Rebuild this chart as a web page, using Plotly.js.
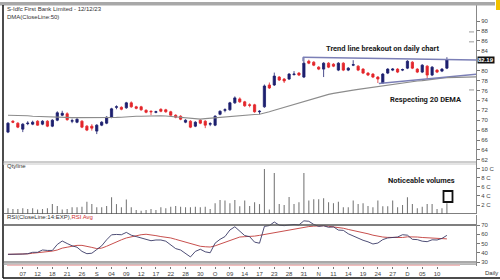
<!DOCTYPE html>
<html><head><meta charset="utf-8">
<script src="https://cdn.plot.ly/plotly-3.0.1.min.js"></script>
<style>html,body{margin:0;padding:0;background:#fff}#c{width:500px;height:280px}</style>
</head><body><div id="c"></div>
<script>
const openP  = [67.6,69.8,69.4,68.2,69.3,69.2,69.8,69.2,69.8,68.8,70.0,71.0,71.3,69.8,69.6,69.8,68.8,68.8,67.8,69.0,69.4,70.6,72.6,72.6,72.5,73.5,72.7,72.7,72.0,71.8,71.6,72.2,72.1,71.7,71.0,70.8,69.6,69.8,68.8,70.0,69.8,69.2,69.0,71.2,72.0,72.1,73.5,74.3,73.7,73.1,73.1,71.7,72.7,77.1,77.1,78.7,78.3,78.3,79.2,79.5,78.7,81.9,81.7,80.7,80.3,81.5,81.3,80.1,81.5,80.1,81.1,80.9,80.3,79.5,79.3,78.7,77.5,79.5,80.1,80.3,80.1,80.5,81.7,80.3,79.7,80.9,79.1,80.1,79.9,80.5];
const highP  = [69.6,70.0,69.6,69.4,69.8,69.9,70.0,70.0,70.0,70.2,71.8,71.9,71.6,70.3,70.4,70.0,69.0,69.2,69.2,69.8,70.8,72.5,73.0,72.8,73.7,73.8,72.9,72.9,72.2,72.0,71.9,72.4,72.3,71.9,71.2,71.0,70.2,70.0,69.8,70.2,70.0,69.6,71.0,72.0,72.4,73.7,74.8,74.6,73.9,73.4,73.3,72.0,77.2,77.6,79.6,78.9,78.5,79.5,79.9,79.7,82.6,82.2,81.9,80.9,81.7,81.7,81.5,81.7,81.7,80.7,82.1,81.1,80.5,79.7,79.5,78.9,79.5,80.5,80.5,80.5,80.4,82.1,81.9,80.5,81.3,81.1,80.9,80.3,80.5,82.7];
const lowP   = [67.4,69.4,68.4,67.6,69.0,69.0,68.9,69.0,68.6,68.6,69.8,70.8,69.9,69.4,69.4,68.4,67.8,67.9,67.2,68.8,69.2,70.4,72.2,72.0,72.3,72.5,72.2,71.9,71.4,71.0,71.4,71.6,71.5,70.9,70.4,70.0,69.4,68.4,68.6,69.2,68.4,68.8,68.8,71.0,71.6,71.9,73.3,73.5,72.7,72.6,71.5,71.2,72.5,76.3,76.9,77.9,77.5,78.1,79.0,78.9,78.5,81.3,80.9,80.1,78.7,80.5,80.7,79.9,79.9,79.9,80.9,79.9,79.3,78.9,78.5,77.5,77.3,79.3,79.9,79.5,79.9,80.3,80.3,79.5,79.5,78.3,78.9,79.5,79.7,80.3];
const closeP = [69.4,69.6,68.6,69.2,69.4,69.6,69.0,69.8,68.8,70.0,71.5,71.4,70.1,69.9,70.2,68.6,68.0,68.4,69.0,69.6,70.6,72.3,72.7,72.2,73.5,72.7,72.4,72.1,71.6,71.7,71.7,71.8,71.7,71.0,70.6,70.2,70.0,68.6,69.6,69.4,69.0,69.3,70.8,71.8,72.1,73.5,74.5,73.7,72.9,73.0,71.7,71.8,76.9,76.5,78.9,78.1,77.9,79.3,79.3,79.1,81.5,81.5,81.1,80.3,81.5,80.7,80.9,81.5,80.1,80.5,81.2,80.1,79.5,79.1,78.7,78.3,79.3,80.3,80.3,79.7,80.2,81.9,80.5,79.7,81.1,79.1,80.7,79.7,80.3,82.19];
const dma50  = [71.0,71.0,70.95,70.9,70.9,70.8,70.75,70.7,70.7,70.65,70.6,70.6,70.55,70.5,70.5,70.5,70.45,70.4,70.4,70.4,70.45,70.5,70.55,70.6,70.7,70.75,70.8,70.8,70.85,70.9,70.9,70.9,70.85,70.75,70.7,70.6,70.5,70.4,70.3,70.2,70.3,70.4,70.5,70.6,70.7,70.8,70.9,71.0,71.05,71.1,71.15,71.2,71.4,71.7,72.0,72.3,72.6,72.9,73.2,73.5,73.8,74.1,74.4,74.7,74.95,75.2,75.4,75.6,75.75,75.9,76.05,76.2,76.35,76.5,76.65,76.8,76.9,77.05,77.2,77.3,77.45,77.6,77.75,77.9,78.0,78.15,78.3,78.4,78.5,78.6];
const volume = [1.3,1.1,1.1,1.3,1.1,1.3,1.0,1.1,1.3,2.2,1.8,1.0,1.1,1.5,1.5,1.6,2.7,2.2,1.5,1.5,1.8,3.7,2.2,1.5,3.2,1.5,0.9,0.7,0.9,1.1,0.9,1.5,1.3,1.6,1.8,1.6,1.5,1.5,1.6,1.5,1.6,1.1,2.4,3.1,3.0,2.4,3.1,1.7,3.0,1.8,2.6,2.2,10.0,1.0,9.1,2.2,2.0,3.8,2.2,2.6,9.1,3.0,3.3,3.3,3.5,2.6,2.4,2.7,1.5,1.5,3.0,2.2,2.4,1.8,1.5,3.0,1.7,1.7,3.0,1.5,2.0,3.7,2.2,1.3,1.6,2.2,2.2,1.1,1.3,2.4];
const rsi    = [38.3,38.3,38.0,38.6,39.0,40.5,40.5,43.0,42.5,42.5,49.0,52.7,50.0,47.5,46.0,41.5,39.0,39.5,43.5,47.5,54.0,59.4,59.8,59.5,62.0,59.0,57.5,56.0,54.0,53.0,53.8,53.8,52.5,48.0,44.5,43.0,39.0,35.5,41.5,43.8,41.0,40.0,50.4,54.5,57.5,64.6,68.1,63.6,58.6,57.4,51.5,50.3,68.5,69.4,73.2,69.8,69.3,70.0,70.6,70.1,74.5,74.0,70.6,68.5,69.2,67.5,68.0,64.5,64.2,60.5,58.0,55.5,53.5,51.8,49.5,50.5,54.2,56.0,56.3,57.0,59.5,59.0,54.5,54.2,52.5,52.0,54.0,53.8,55.5,58.8];
const rsiAvg = [38.3,38.3,38.3,38.4,38.8,39.5,40.0,40.8,41.4,41.8,43.0,45.0,46.0,47.0,48.0,48.0,47.2,45.8,44.5,45.0,47.0,49.5,52.0,54.0,56.0,57.3,58.5,59.5,60.0,59.5,58.5,57.5,57.0,56.0,54.5,53.0,51.5,50.0,48.5,47.0,46.5,46.2,47.5,49.5,51.5,53.5,55.5,57.0,57.4,57.4,58.0,58.8,59.8,61.0,62.0,63.0,64.0,65.0,66.0,66.8,67.5,68.3,68.8,69.3,69.2,68.6,68.0,67.3,66.5,65.2,64.2,63.0,61.8,60.5,59.0,57.6,57.0,56.6,56.4,56.3,56.5,57.2,57.4,57.0,56.5,56.3,56.2,55.8,55.4,55.0];
const dateLabels = ["07","12","18","21","26","S","04","09","12","17","22","28","30","O","09","14","17","23","28","31","N","11","14","19","24","27","D","05","10"];
const priceTicks = [62,64,66,68,70,72,74,76,78,80,82,84,86,88,90];
const volTicks = [2,4,6,8,10];
const volTickText = ["2 C","4 C","6 C","8 C","10 C"];
const rsiTicks = [30,40,50,60,70];
const lastPrice = 82.19;

const idx = closeP.map((_, i) => i);
const labelPos = dateLabels.map((_, k) => 3 * (k + 1));

const W = 500, H = 280;
const px = v => v / W;
const py = v => 1 - v / H;
const NAVY = '#1d1f6e', RED = '#e3262b', TL = '#7b7fb6';
const F = 'Liberation Sans, Arial, sans-serif';

const traces = [
  {type:'scatter', mode:'lines', x: idx, y: dma50, xaxis:'x', yaxis:'y', line:{color:'#8c8c8c', width:1.2}, hoverinfo:'skip'},
  {type:'candlestick', x: idx, open: openP, high: highP, low: lowP, close: closeP, xaxis:'x', yaxis:'y',
   increasing:{line:{color:NAVY, width:0.8}, fillcolor:NAVY},
   decreasing:{line:{color:RED, width:0.8}, fillcolor:RED}, whiskerwidth:0},
  {type:'bar', x: idx, y: volume, xaxis:'x', yaxis:'y2', width:0.22, marker:{color:'#7a7a7a', line:{width:0}}},
  {type:'scatter', mode:'lines', x: idx, y: rsiAvg, xaxis:'x', yaxis:'y3', line:{color:'#c8504e', width:1}},
  {type:'scatter', mode:'lines', x: idx, y: rsi, xaxis:'x', yaxis:'y3', line:{color:'#3a3a66', width:0.9}}
];

const xa0 = 0.006, xa1 = 0.952;
const shapes = [
  {type:'rect', xref:'paper', yref:'paper', x0:px(0), x1:px(495), y0:py(5.5), y1:py(2), fillcolor:'#a8a8a8', line:{width:0}},
  {type:'rect', xref:'paper', yref:'paper', x0:px(496), x1:px(500), y0:py(10), y1:py(0), fillcolor:'#f2c200', line:{width:0}},
  {type:'line', xref:'paper', yref:'paper', x0:px(3), x1:px(3), y0:py(5), y1:py(278), line:{color:'#111', width:1.5}},
  {type:'line', xref:'paper', yref:'paper', x0:px(3), x1:px(500), y0:py(278), y1:py(278), line:{color:'#111', width:1.5}},
  {type:'line', xref:'paper', yref:'paper', x0:xa0, x1:xa1, y0:py(162), y1:py(162), line:{color:'#9a9a9a', width:1}},
  {type:'line', xref:'paper', yref:'paper', x0:xa0, x1:xa1, y0:py(164), y1:py(164), line:{color:'#c8c8c8', width:1}},
  {type:'line', xref:'paper', yref:'y2', x0:xa0, x1:xa1, y0:0, y1:0, line:{color:'#555', width:1.6}},
  {type:'line', xref:'paper', yref:'y3', x0:xa0, x1:xa1, y0:70, y1:70, line:{color:'#555', width:1.6}},
  {type:'line', xref:'paper', yref:'y3', x0:xa0, x1:xa1, y0:30, y1:30, line:{color:'#555', width:1.2}},
  {type:'line', xref:'paper', yref:'y3', x0:xa0, x1:xa1, y0:27.8, y1:27.8, line:{color:'#777', width:1}},
  {type:'line', xref:'paper', yref:'y3', x0:px(7), x1:px(460), y0:26.3, y1:26.3, line:{color:'#f1bcbc', width:2}},
  {type:'line', xref:'x', yref:'y', x0:59.8, x1:95.1, y0:82.7, y1:82.15, line:{color:TL, width:1.5}},
  {type:'line', xref:'x', yref:'y', x0:59.8, x1:59.8, y0:82.7, y1:81.9, line:{color:TL, width:1.2}},
  {type:'line', xref:'x', yref:'y', x0:75.2, x1:95.1, y0:77.4, y1:79.3, line:{color:TL, width:1.5}},
  {type:'line', xref:'x', yref:'y', x0:89, x1:95.1, y0:78.6, y1:78.75, line:{color:'#8c8c8c', width:1.2}},
  {type:'line', xref:'paper', yref:'y', x0:px(469), x1:px(474), y0:87.8, y1:87.8, line:{color:'#999', width:1}},
  {type:'line', xref:'paper', yref:'y', x0:px(469), x1:px(474), y0:85.8, y1:85.8, line:{color:'#999', width:1}},
  {type:'line', xref:'paper', yref:'y', x0:px(469), x1:px(474), y0:76.1, y1:76.1, line:{color:'#999', width:1}},
  {type:'rect', xref:'paper', yref:'paper', x0:px(443.5), x1:px(452.5), y0:py(202), y1:py(191), line:{color:'#111', width:1.8}, fillcolor:'rgba(0,0,0,0)'}
];

const ann = (x, y, text, o) => Object.assign({xref:'paper', yref:'paper', x:px(x), y:py(y), text, showarrow:false, xanchor:'left', yanchor:'middle', font:{family:F, size:6, color:'#333'}}, o || {});
const BF = {family:'Liberation Sans Narrow, Roboto, Arial, sans-serif', size:7.5, color:'#1a1a1a'};
const annotations = [
  ann(5, 9, 'S-Idfc First Bank Limited - 12/12/23'),
  ann(5, 17, 'DMA(CloseLine:50)'),
  ann(5, 166, 'Qtyline'),
  ann(5, 217, 'RSI(CloseLine:14:EXP),<span style="color:#d03030">RSI Avg</span>'),
  ann(483, 273, 'Daily'),
  ann(383, 48, '<b>Trend line breakout on daily chart</b>', {xanchor:'center', font:BF}),
  ann(426, 99, '<b>Respecting 20 DEMA</b>', {xanchor:'center', font:BF}),
  ann(421, 180, '<b>Noticeable volumes</b>', {xanchor:'center', font:BF}),
  {xref:'paper', yref:'y', x:px(477), y:lastPrice, text:'<b>' + lastPrice.toFixed(2) + '</b>', showarrow:false, xanchor:'left', yanchor:'middle', bgcolor:'#111', borderpad:0, font:{family:F, size:6, color:'#fff'}}
];

const yax = (domain, range, tickvals, ticktext) => ({domain, range, tickvals, ticktext, side:'right', anchor:'x', fixedrange:true,
  ticks:'outside', ticklen:3, tickcolor:'#777', showgrid:false, zeroline:false, showline:true, linecolor:'#888', linewidth:1,
  tickfont:{family:F, size:6, color:'#444'}});

const layout = {
  width: W, height: H, margin:{l:0, r:0, t:0, b:0},
  paper_bgcolor:'#fff', plot_bgcolor:'#fff', showlegend:false, boxgap:0.35,
  font:{family:F, size:6, color:'#333'},
  xaxis:{domain:[xa0, xa1], range:[-1.01, 94.9], anchor:'y3', tickvals: labelPos, ticktext: dateLabels,
    ticks:'outside', ticklen:2, tickcolor:'#777', showgrid:false, zeroline:false, showline:false,
    tickfont:{family:F, size:6, color:'#444'}, rangeslider:{visible:false}, fixedrange:true},
  yaxis: yax([py(163), py(5)], [61.37, 93.23], priceTicks.filter(v => v !== 82)),
  yaxis2: yax([py(214), py(163)], [0, 11.33], volTicks, volTickText),
  yaxis3: yax([py(266), py(215)], [25.7, 80.8], rsiTicks),
  shapes, annotations
};

Plotly.newPlot('c', traces, layout, {staticPlot:true, displayModeBar:false});
</script>
</body></html>
